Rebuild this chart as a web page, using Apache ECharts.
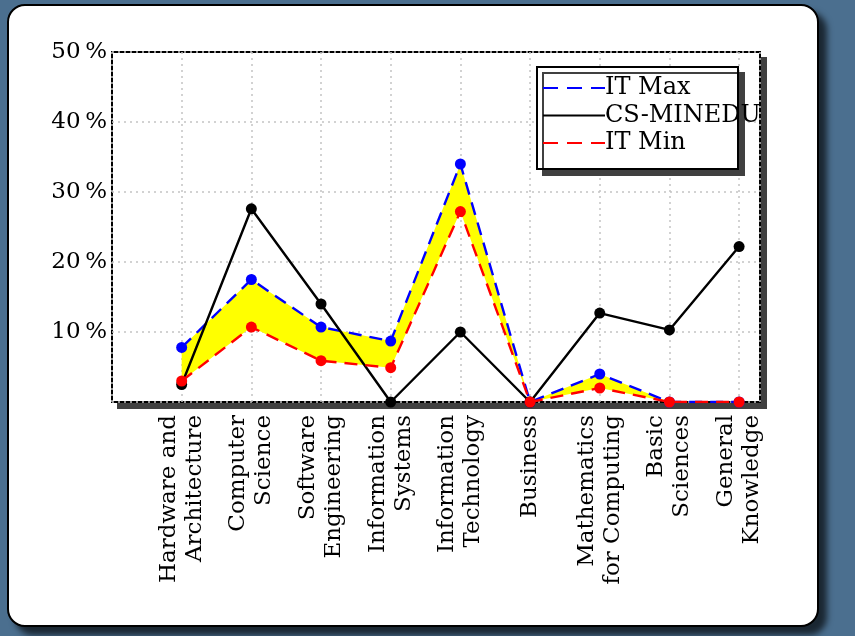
<!DOCTYPE html>
<html>
<head>
<meta charset="utf-8">
<script src="https://cdn.jsdelivr.net/npm/echarts@6/dist/echarts.min.js"></script>
<style>
  html, body { margin: 0; padding: 0; width: 855px; height: 636px; background: #4b6f8f; overflow: hidden; }
  #card {
    position: absolute; left: 7px; top: 4px; width: 808px; height: 619px;
    background: #fff; border: 2px solid #000; border-radius: 18px;
    box-shadow: 8px 8px 6px rgba(0,0,0,0.65);
  }
  #plotShadow { position: absolute; left: 117px; top: 57px; width: 650px; height: 352px; background: #404040; }
  #plotFrame {
    position: absolute; left: 111px; top: 51px; width: 646px; height: 348px;
    background: #fff; border: 2px solid #000;
  }
  #chart { position: absolute; left: 0; top: 0; width: 855px; height: 636px; }
</style>
</head>
<body>
<div id="card"></div>
<div id="plotShadow"></div>
<div id="plotFrame"></div>
<div id="chart"></div>
<script>
// Knowledge areas (x axis)
const categories = [
  'Hardware and\nArchitecture',
  'Computer\nScience',
  'Software\nEngineering',
  'Information\nSystems',
  'Information\nTechnology',
  'Business',
  'Mathematics\nfor Computing',
  'Basic\nSciences',
  'General\nKnowledge'
];
// Share of curriculum, in percent
const itMax     = [7.8, 17.5, 10.7, 8.7, 34.0, 0, 4.0, 0, 0];
const csMinedu  = [2.5, 27.6, 14.0, 0, 10.0, 0, 12.7, 10.3, 22.2];
const itMin     = [3.0, 10.7, 5.9, 4.9, 27.2, 0, 2.0, 0, 0];
const yTicks    = [10, 20, 30, 40, 50];
const seriesNames = ['IT Max', 'CS-MINEDU', 'IT Min'];

const FONT = 'DejaVu Serif';
const pts = arr => arr.map((v, i) => [i + 1, v]);

const chart = echarts.init(document.getElementById('chart'), null, { renderer: 'canvas' });

const legendRows = [
  { name: seriesNames[0], color: '#0000ff', dash: [15, 9] },
  { name: seriesNames[1], color: '#000000', dash: null },
  { name: seriesNames[2], color: '#ff0000', dash: [15, 9] }
];
const legendEls = [{
  type: 'rect', z: 20,
  shape: { x: 537, y: 67, width: 201, height: 102 },
  style: { fill: '#fff', stroke: '#000', lineWidth: 2,
           shadowColor: '#404040', shadowOffsetX: 6, shadowOffsetY: 6, shadowBlur: 0 }
}];
legendRows.forEach((r, k) => {
  const y = 88 + k * 27.5;
  legendEls.push({
    type: 'line', z: 21,
    shape: { x1: 543, y1: y, x2: 605, y2: y },
    style: { stroke: r.color, lineWidth: 2.2, lineDash: r.dash || 'solid' }
  });
  legendEls.push({
    type: 'text', z: 21, x: 605, y: y,
    style: { text: r.name, fill: '#000', font: '24px "' + FONT + '"',
             textAlign: 'left', textVerticalAlign: 'middle' }
  });
});

// Filled range between the IT maximum and minimum curves
function renderBand(params, api) {
  if (params.dataIndex !== 0) return null;
  const upper = itMax.map((v, i) => api.coord([i + 1, v]));
  const lower = itMin.map((v, i) => api.coord([i + 1, v])).reverse();
  return {
    type: 'polygon',
    shape: { points: upper.concat(lower) },
    style: { fill: '#ffff00', stroke: 'none' }
  };
}

const gridLine = { show: true, lineStyle: { color: '#c4c4c4', type: [2, 4], width: 1.5 } };

const option = {
  animation: false,
  textStyle: { fontFamily: FONT },
  grid: { left: 112, right: 95, top: 52, bottom: 234, show: false },
  xAxis: {
    type: 'value', min: 0, max: 9.3, interval: 1,
    axisLine: { show: false }, axisTick: { show: false },
    splitLine: gridLine,
    axisLabel: {
      rotate: 90, margin: 13, fontSize: 23, fontFamily: FONT, color: '#000', lineHeight: 26,
      formatter: v => (Number.isInteger(v) && v >= 1 && v <= categories.length) ? categories[v - 1] : ''
    }
  },
  yAxis: {
    type: 'value', min: 0, max: 50, interval: 10,
    axisLine: { show: false }, axisTick: { show: false },
    splitLine: gridLine,
    axisLabel: {
      margin: 5, fontSize: 23, fontFamily: FONT, color: '#000',
      formatter: v => yTicks.includes(v) ? v + '\u2009%' : ''
    }
  },
  series: [
    {
      type: 'custom', renderItem: renderBand, data: [[1, 0]], silent: true, z: 1,
      clip: false
    },
    {
      name: seriesNames[0], type: 'line', data: pts(itMax),
      symbol: 'circle', symbolSize: 11, itemStyle: { color: '#0000ff' },
      lineStyle: { color: '#0000ff', width: 2.4, type: [13, 8] }, z: 3
    },
    {
      name: seriesNames[1], type: 'line', data: pts(csMinedu),
      symbol: 'circle', symbolSize: 11, itemStyle: { color: '#000' },
      lineStyle: { color: '#000', width: 2.4 }, z: 4
    },
    {
      name: seriesNames[2], type: 'line', data: pts(itMin),
      symbol: 'circle', symbolSize: 11, itemStyle: { color: '#ff0000' },
      lineStyle: { color: '#ff0000', width: 2.4, type: [13, 8] }, z: 5
    }
  ],
  graphic: { elements: legendEls }
};
chart.setOption(option);
</script>
</body>
</html>
